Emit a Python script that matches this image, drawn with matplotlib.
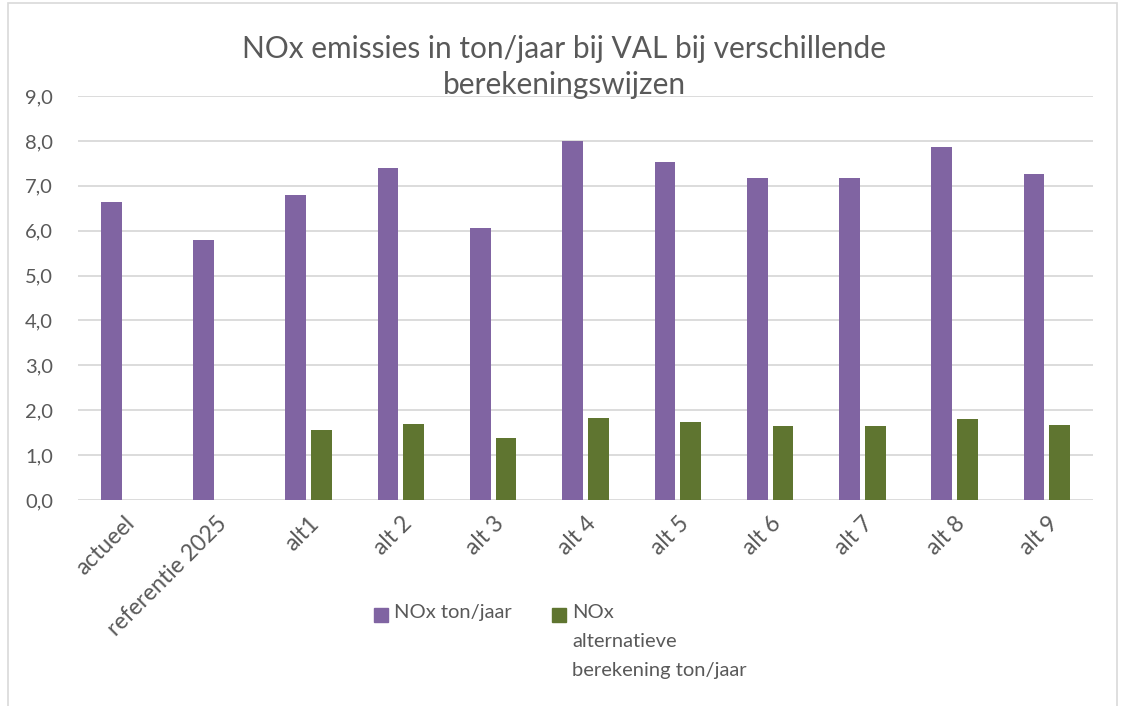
import matplotlib
matplotlib.use("Agg")
import matplotlib.pyplot as plt
from matplotlib.patches import Rectangle
import numpy as np

# --- data ---
categories = ["actueel", "referentie 2025", "alt1", "alt 2", "alt 3", "alt 4",
              "alt 5", "alt 6", "alt 7", "alt 8", "alt 9"]
nox_ton = [6.63, 5.80, 6.80, 7.40, 6.07, 8.00, 7.52, 7.17, 7.17, 7.87, 7.27]
nox_alt = [np.nan, np.nan, 1.56, 1.70, 1.39, 1.83, 1.73, 1.65, 1.65, 1.80, 1.67]
series_names = ["NOx ton/jaar", "NOx\nalternatieve\nberekening ton/jaar"]
title = "NOx emissies in ton/jaar bij VAL bij verschillende\nberekeningswijzen"

purple = "#8064A2"
green = "#5F7530"
grid_col = "#D9D9D9"
text_col = "#595959"

plt.rcParams["font.family"] = ["Lato", "DejaVu Sans"]

W, H = 1121, 706
fig = plt.figure(figsize=(W / 100, H / 100), dpi=100)

# chart border
fig.add_artist(Rectangle((8 / W, -0.1), (1117 - 8) / W, 1.1 - 3 / H,
                         transform=fig.transFigure, fill=False,
                         edgecolor=grid_col, lw=1.2))

ax = fig.add_axes([78 / W, 1 - 500 / H, (1093 - 78) / W, (500 - 96) / H])

x = np.arange(len(categories))
bw = 0.225
off = 0.1395
ax.bar(x - off, nox_ton, bw, color=purple, zorder=3)
ax.bar(x + off, nox_alt, bw, color=green, zorder=3)

ax.set_xlim(-0.5, len(categories) - 0.5)
ax.set_ylim(0, 9)
yt = np.arange(0, 10)
ax.set_yticks(yt)
ax.set_yticklabels([f"{v:.1f}".replace(".", ",") for v in yt])
ax.grid(axis="y", color=grid_col, lw=1.3, zorder=0)
ax.set_axisbelow(True)
for s in ax.spines.values():
    s.set_visible(False)
ax.tick_params(axis="y", length=0, pad=18, labelsize=14.5, labelcolor=text_col)
ax.tick_params(axis="x", length=0, pad=9, labelsize=16.5, labelcolor=text_col)
ax.set_xticks(x)
ax.set_xticklabels(categories, rotation=45, ha="right", rotation_mode="anchor")

fig.text(564 / W, 1 - 67 / H, title, ha="center", va="center", fontsize=21.5,
         color=text_col, linespacing=1.35)

# legend drawn by hand so the marker sits on the first text line
def legend_item(xs, ys, color, label):
    fig.add_artist(Rectangle((xs / W, 1 - (ys + 7) / H), 14 / W, 14 / H,
                             transform=fig.transFigure, color=color))
    fig.text((xs + 20) / W, 1 - (ys - 11) / H, label, ha="left", va="top",
             fontsize=14.5, color=text_col, linespacing=1.85)

legend_item(374, 615, purple, series_names[0])
legend_item(552, 615, green, series_names[1])

fig.savefig("out.png", dpi=100)
